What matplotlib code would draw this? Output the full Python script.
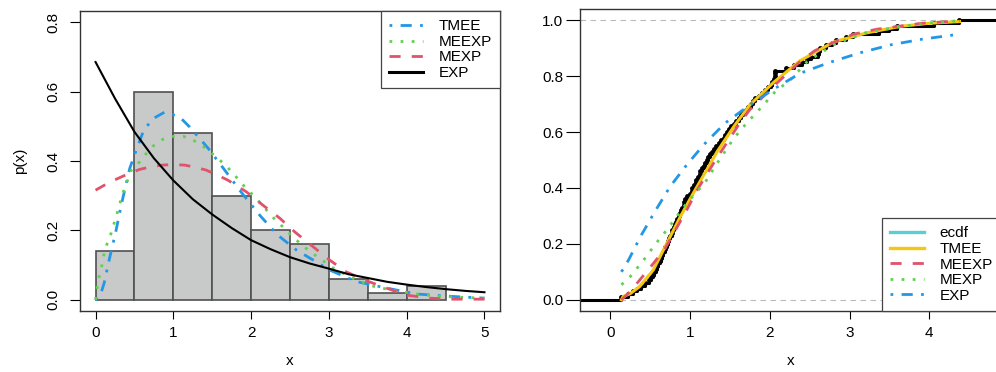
"""
Density fit (left) and CDF comparison against the ECDF (right)
"""

import numpy as np
import matplotlib
matplotlib.use("Agg")
import matplotlib.pyplot as plt
from matplotlib.lines import Line2D

plt.rcParams['font.family'] = ['Liberation Sans', 'DejaVu Sans']

# R 4.x palette
RED = '#DF536B'
GREEN = '#61D04F'
BLUE = '#2297E6'
CYAN = '#5BCFD0'
YELLOW = '#F5C710'

# ---------------- left panel data ----------------
hist_left = [0.0, 0.5, 1.0, 1.5, 2.0, 2.5, 3.0, 3.5, 4.0]
hist_heights = [0.14, 0.60, 0.48, 0.30, 0.20, 0.16, 0.06, 0.02, 0.04]

tmee_pdf_x = [0.0, 0.056, 0.11, 0.18, 0.26, 0.33, 0.44, 0.50, 0.62, 0.74, 0.89, 1.08,
              1.21, 1.45, 1.66, 1.87, 2.11, 2.34, 2.58, 3.01, 3.35, 3.70, 4.12, 4.59, 5.0]
tmee_pdf_y = [0.0, 0.01, 0.048, 0.12, 0.196, 0.273, 0.379, 0.417, 0.489, 0.522, 0.541, 0.527,
              0.498, 0.436, 0.374, 0.311, 0.244, 0.187, 0.144, 0.086, 0.053, 0.036, 0.017, 0.01, 0.005]

meexp_pdf_x = [0.0, 0.03, 0.07, 0.11, 0.15, 0.20, 0.27, 0.35, 0.46, 0.57, 0.65, 0.74, 0.86,
               1.0, 1.13, 1.27, 1.38, 1.49, 1.60, 1.70, 1.79, 1.87, 1.96, 2.06, 2.15, 2.24,
               2.32, 2.43, 2.52, 2.62, 2.73, 2.84, 2.94, 3.06, 3.31, 3.59, 3.86, 4.16, 4.46,
               4.76, 5.0]
meexp_pdf_y = [0.0, 0.053, 0.086, 0.134, 0.163, 0.192, 0.244, 0.307, 0.374, 0.398, 0.421,
               0.443, 0.462, 0.471, 0.471, 0.458, 0.443, 0.423, 0.402, 0.381, 0.359, 0.337,
               0.316, 0.294, 0.27, 0.249, 0.228, 0.206, 0.184, 0.165, 0.144, 0.126, 0.11,
               0.091, 0.062, 0.038, 0.026, 0.016, 0.01, 0.007, 0.005]

mexp_pdf_x = [0.0, 0.15, 0.29, 0.43, 0.57, 0.71, 0.85, 1.0, 1.15, 1.28, 1.42, 1.56, 1.70,
              1.94, 2.15, 2.37, 2.56, 2.77, 2.99, 3.22, 3.46, 3.74, 3.99, 4.29, 4.60, 5.0]
mexp_pdf_y = [0.316, 0.335, 0.35, 0.364, 0.376, 0.383, 0.388, 0.39, 0.388, 0.382, 0.374,
              0.36, 0.345, 0.311, 0.273, 0.235, 0.196, 0.158, 0.118, 0.081, 0.057, 0.034,
              0.014, 0.005, 0.002, 0.002]

exp_pdf_x = [0.0, 0.25, 0.5, 0.75, 1.0, 1.25, 1.5, 1.75, 2.0, 2.25, 2.5, 2.75, 3.0, 3.25,
             3.5, 3.75, 4.0, 4.25, 4.5, 4.75, 5.0]
exp_pdf_y = [0.685, 0.58, 0.484, 0.408, 0.344, 0.29, 0.246, 0.207, 0.172, 0.146, 0.123,
             0.105, 0.09, 0.074, 0.063, 0.052, 0.044, 0.037, 0.031, 0.026, 0.022]

# ---------------- right panel data ----------------
# sample (n = 100) read off the ECDF steps / histogram counts
sample = [0.14, 0.22, 0.28, 0.33, 0.38, 0.44, 0.48,
          0.51, 0.53, 0.55, 0.57, 0.58, 0.60, 0.62, 0.63, 0.65, 0.66, 0.68, 0.69, 0.71,
          0.72, 0.74, 0.75, 0.77, 0.78, 0.80, 0.81, 0.83, 0.84, 0.86, 0.87, 0.89, 0.90,
          0.92, 0.93, 0.94, 0.96,
          1.00, 1.02, 1.03, 1.05, 1.07, 1.08, 1.10, 1.12, 1.13, 1.15, 1.17, 1.19, 1.21,
          1.23, 1.25, 1.27, 1.30, 1.33, 1.36, 1.39, 1.42, 1.44, 1.46, 1.49,
          1.52, 1.55, 1.58, 1.61, 1.64, 1.67, 1.70, 1.73, 1.76, 1.79, 1.82, 1.86, 1.90,
          1.94, 1.98,
          2.02, 2.03, 2.05, 2.06, 2.07, 2.07, 2.20, 2.30, 2.40, 2.47,
          2.52, 2.60, 2.62, 2.63, 2.70, 2.78, 2.83, 2.95,
          3.05, 3.37, 3.50,
          3.60,
          4.06, 4.37]

tmee_cdf_x = [0.14, 0.16, 0.25, 0.37, 0.54, 0.71, 0.88, 1.04, 1.21, 1.34, 1.55, 1.75, 2.05,
              2.38, 2.80, 3.22, 3.64, 4.0, 4.38]
tmee_cdf_y = [0.0, 0.012, 0.022, 0.048, 0.107, 0.203, 0.298, 0.381, 0.465, 0.53, 0.62,
              0.697, 0.778, 0.855, 0.922, 0.955, 0.978, 0.989, 0.995]

meexp_cdf_x = [0.14, 0.25, 0.39, 0.54, 0.69, 0.83, 0.96, 1.09, 1.32, 1.61, 1.75, 2.09, 2.38,
               2.57, 3.05, 3.35, 3.91, 4.23, 4.38]
meexp_cdf_y = [0.0, 0.03, 0.078, 0.13, 0.185, 0.256, 0.322, 0.393, 0.50, 0.626, 0.68, 0.775,
               0.852, 0.892, 0.950, 0.968, 0.989, 0.995, 0.997]

mexp_cdf_x = [0.14, 0.25, 0.41, 0.56, 0.72, 0.87, 0.96, 1.19, 1.32, 1.55, 1.71, 1.90, 2.07,
              2.26, 2.47, 2.80, 3.20, 3.60, 4.0, 4.38]
mexp_cdf_y = [0.054, 0.083, 0.139, 0.197, 0.254, 0.313, 0.346, 0.42, 0.48, 0.578, 0.632,
              0.69, 0.745, 0.787, 0.852, 0.912, 0.955, 0.975, 0.99, 0.998]

exp_cdf_x = [0.14, 0.23, 0.39, 0.56, 0.75, 0.96, 1.17, 1.44, 1.75, 2.07, 2.38, 2.75, 3.14,
             3.52, 3.91, 4.38]
exp_cdf_y = [0.10, 0.143, 0.232, 0.316, 0.405, 0.483, 0.554, 0.632, 0.697, 0.757, 0.81,
             0.849, 0.884, 0.912, 0.932, 0.95]

DOTDASH = (0, (1, 3, 4, 3))
DASHED = (0, (4, 4))
DOTTED = (0, (1, 3))
FS = 11

fig = plt.figure(figsize=(9.96, 3.72), dpi=100)
W, H = 996.0, 372.0
ax1 = fig.add_axes([80 / W, 61 / H, 420 / W, 300 / H])
ax2 = fig.add_axes([580 / W, 61 / H, 421 / W, 302 / H])

# ---- left: histogram + densities ----
ax1.bar(hist_left, hist_heights, width=0.5, align='edge', color='#C8C9C9',
        edgecolor='#505050', linewidth=1.2, zorder=1)
ax1.plot(tmee_pdf_x, tmee_pdf_y, color=BLUE, lw=2.0, ls=DOTDASH, zorder=3)
ax1.plot(meexp_pdf_x, meexp_pdf_y, color=GREEN, lw=2.0, ls=DOTTED, zorder=3)
ax1.plot(mexp_pdf_x, mexp_pdf_y, color=RED, lw=2.0, ls=DASHED, zorder=3)
ax1.plot(exp_pdf_x, exp_pdf_y, color='black', lw=1.5, zorder=4)

ax1.set_xlim(-0.2, 5.2)
ax1.set_ylim(-0.032, 0.832)
ax1.set_xticks([0, 1, 2, 3, 4, 5])
ax1.set_yticks([0.0, 0.2, 0.4, 0.6, 0.8])
ax1.set_yticklabels(['0.0', '0.2', '0.4', '0.6', '0.8'], rotation=90, va='center')
ax1.tick_params(axis='y', length=7, pad=7, labelsize=FS)
ax1.tick_params(axis='x', length=6, pad=5, labelsize=FS)
ax1.set_xlabel('x', fontsize=FS, labelpad=10)
ax1.set_ylabel('p(x)', fontsize=FS, labelpad=14)

h_left = [Line2D([], [], color=BLUE, lw=2.0, ls=DOTDASH),
          Line2D([], [], color=GREEN, lw=2.0, ls=DOTTED),
          Line2D([], [], color=RED, lw=2.0, ls=DASHED),
          Line2D([], [], color='black', lw=2.2)]
leg1 = ax1.legend(h_left, ['TMEE', 'MEEXP', 'MEXP', 'EXP'], loc='upper right',
                  bbox_to_anchor=(1.0, 1.0), borderaxespad=0, fancybox=False,
                  edgecolor='#444444', framealpha=1, fontsize=FS, handlelength=2.2,
                  handletextpad=1.0, labelspacing=0.1, borderpad=0.55)
leg1.get_frame().set_linewidth(0.9)

# ---- right: ECDF + fitted CDFs ----
xs = np.sort(np.array(sample))
ys = np.arange(1, len(xs) + 1) / len(xs)
ax2.axhline(0, color='#BBBBBB', lw=0.8, ls=(0, (5, 4)), zorder=0)
ax2.axhline(1, color='#BBBBBB', lw=0.8, ls=(0, (5, 4)), zorder=0)
ax2.step(np.concatenate([[-0.5], xs, [5.0]]), np.concatenate([[0.0], ys, [1.0]]),
         where='post', color='black', lw=2.2, zorder=2)
ax2.plot(xs, ys, 'o', color='black', ms=2.5, zorder=2)
ax2.plot(tmee_cdf_x, tmee_cdf_y, color=YELLOW, lw=2.2, zorder=3)
ax2.plot(meexp_cdf_x, meexp_cdf_y, color=RED, lw=2.0, ls=DASHED, zorder=4)
ax2.plot(mexp_cdf_x, mexp_cdf_y, color=GREEN, lw=2.0, ls=DOTTED, zorder=4)
ax2.plot(exp_cdf_x, exp_cdf_y, color=BLUE, lw=2.0, ls=DOTDASH, zorder=4)

ax2.set_xlim(-0.38, 4.9)
ax2.set_ylim(-0.04, 1.04)
ax2.set_xticks([0, 1, 2, 3, 4])
ax2.set_yticks([0.0, 0.2, 0.4, 0.6, 0.8, 1.0])
ax2.set_yticklabels(['0.0', '0.2', '0.4', '0.6', '0.8', '1.0'])
ax2.tick_params(axis='y', length=10, pad=2, labelsize=FS)
ax2.tick_params(axis='x', length=6, pad=5, labelsize=FS)
ax2.set_xlabel('x', fontsize=FS, labelpad=10)

h_right = [Line2D([], [], color=CYAN, lw=2.4),
           Line2D([], [], color=YELLOW, lw=2.4),
           Line2D([], [], color=RED, lw=2.0, ls=DASHED),
           Line2D([], [], color=GREEN, lw=2.0, ls=DOTTED),
           Line2D([], [], color=BLUE, lw=2.0, ls=DOTDASH)]
leg2 = ax2.legend(h_right, ['ecdf', 'TMEE', 'MEEXP', 'MEXP', 'EXP'], loc='lower right',
                  bbox_to_anchor=(1.0, 0.0), borderaxespad=0, fancybox=False,
                  edgecolor='#444444', framealpha=1, fontsize=FS, handlelength=2.2,
                  handletextpad=1.0, labelspacing=0.1, borderpad=0.55)
leg2.get_frame().set_linewidth(0.9)

for ax in (ax1, ax2):
    for s in ax.spines.values():
        s.set_color('#333333')
        s.set_linewidth(1.0)

fig.savefig('out.png', dpi=100)
